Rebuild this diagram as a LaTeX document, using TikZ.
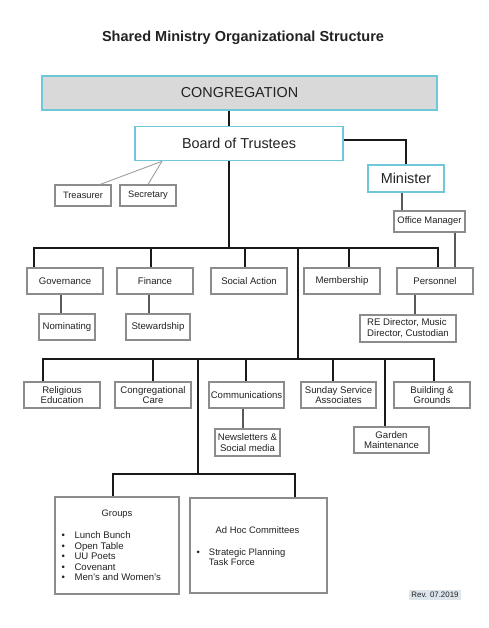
\documentclass[tikz,border=0pt]{standalone}
\usepackage{fontspec}
\setmainfont{Liberation Sans}
\definecolor{cyanb}{HTML}{6FC8DA}
\definecolor{grayb}{HTML}{8C8C8C}
\definecolor{congfill}{HTML}{D9D9D9}
\definecolor{revfill}{HTML}{DCE5EC}
\definecolor{txt}{HTML}{222222}
\tikzset{
  bx/.style={draw=grayb, line width=1.1pt, fill=white, inner sep=1pt, align=center,
    font=\fontsize{9.6}{10.8}\selectfont, text=txt},
  bigbx/.style={draw=cyanb, line width=1.6pt, inner sep=1pt,
    font=\fontsize{14.4}{16}\selectfont, text=txt},
  conn/.style={line width=1.8pt, black!90},
  thinln/.style={line width=0.9pt, gray!75},
  midln/.style={line width=1.3pt, black!65},
  listtxt/.style={inner sep=0pt, anchor=north west, font=\fontsize{9.6}{10.5}\selectfont, text=txt, align=left},
}
\begin{document}
\begin{tikzpicture}[x=1pt,y=-1pt]
\useasboundingbox[fill=white] (0,0) rectangle (488,628);

% title
\node[font=\bfseries\fontsize{14.5}{16}\selectfont, text=txt] (title) at (243,38) {Shared Ministry Organizational Structure};

% top level
\node[bigbx, fill=congfill, minimum width=395pt, minimum height=34pt] (cong) at (239.5,93) {CONGREGATION};
\node[bigbx, fill=white, minimum width=208pt, minimum height=34pt] (board) at (239,143.5) {Board of Trustees};
\node[bigbx, fill=white, minimum width=76pt, minimum height=27pt] (min) at (406,178.5) {Minister};

\node[bx, minimum width=56pt, minimum height=21pt, font=\fontsize{9.3}{10.8}\selectfont] (treas) at (83,195.5) {Treasurer};
\node[bx, minimum width=56pt, minimum height=21pt, font=\fontsize{9.3}{10.8}\selectfont] (secr) at (148,195.5) {Secretary};
\node[bx, minimum width=71pt, minimum height=21pt, font=\fontsize{9.4}{10.8}\selectfont] (office) at (429.5,221.5) {Office Manager};

% row 1
\node[bx, minimum width=76pt, minimum height=26pt] (gov) at (65,281) {Governance};
\node[bx, minimum width=76pt, minimum height=26pt] (fin) at (155,281) {Finance};
\node[bx, minimum width=76pt, minimum height=26pt] (soc) at (249,281) {Social Action};
\node[bx, minimum width=76pt, minimum height=26pt] (mem) at (342,281) {Membership};
\node[bx, minimum width=76pt, minimum height=26pt] (pers) at (435,281) {Personnel};

\node[bx, minimum width=56pt, minimum height=26pt] (nom) at (67,327) {Nominating};
\node[bx, minimum width=64pt, minimum height=26pt] (stew) at (158,327) {Stewardship};
\node[bx, minimum width=96pt, minimum height=27pt, align=left] (redir) at (408,328.5) {RE Director, Music\\Director, Custodian};

% row 2
\node[bx, minimum width=76pt, minimum height=26pt] (rel) at (62,395) {Religious\\Education};
\node[bx, minimum width=76pt, minimum height=26pt] (care) at (153,395) {Congregational\\Care};
\node[bx, minimum width=75pt, minimum height=26pt] (comm) at (246.5,395) {Communications};
\node[bx, minimum width=75pt, minimum height=26pt] (sun) at (338.5,395) {Sunday Service\\Associates};
\node[bx, minimum width=76pt, minimum height=26pt] (bld) at (432,395) {Building \&\\Grounds};

\node[bx, minimum width=65pt, minimum height=27pt] (news) at (247.5,442.5) {Newsletters \&\\Social media};
\node[bx, minimum width=75pt, minimum height=26pt] (garden) at (391.5,440) {Garden\\Maintenance};

% bottom boxes
\node[bx, minimum width=124pt, minimum height=97pt] (groups) at (117,545.5) {};
\node[bx, minimum width=137pt, minimum height=95pt] (adhoc) at (258.5,545.5) {};

\node[inner sep=0pt, font=\fontsize{9.4}{10.8}\selectfont, text=txt] (groupst) at (117,514) {Groups};
\node[listtxt] (groupsl) at (61.5,531) {\begin{tabular}{@{}l@{\hspace{9.5pt}}l@{}}
\textbullet & Lunch Bunch\\
\textbullet & Open Table\\
\textbullet & UU Poets\\
\textbullet & Covenant\\
\textbullet & Men’s and Women’s
\end{tabular}};

\node[inner sep=0pt, font=\fontsize{9.4}{10.8}\selectfont, text=txt] (adhoct) at (257.5,530) {Ad Hoc Committees};
\node[listtxt, font=\fontsize{9.4}{10.2}\selectfont] (adhocl) at (196.5,548) {\begin{tabular}{@{}l@{\hspace{9pt}}l@{}}
\textbullet & Strategic Planning\\
 & Task Force
\end{tabular}};

\node[fill=revfill, inner sep=1pt, minimum width=52pt, minimum height=10pt, font=\fontsize{7.9}{9}\selectfont, text=txt] (rev) at (435,594.5) {Rev. 07.2019};

% ---- connectors ----
\coordinate (c2) at ([xshift=-10pt]board.south);
\coordinate (c1) at (c2 |- cong.south);
\draw[conn] (c1) -- (c1 |- board.north);

\draw[conn] ([yshift=3.5pt]board.east) -| (min.north);

\coordinate (bt) at ([xshift=-77pt]board.south);
\draw[thinln] (bt) -- ([xshift=17pt]treas.north);
\draw[thinln] (bt) -- (secr.north);

\coordinate (m1) at ([xshift=-4pt]min.south);
\draw[midln] (m1) -- (m1 |- office.north);
\coordinate (o1) at ([xshift=25.5pt]office.south);
\draw[midln] (o1) -- (o1 |- pers.north);

% bus 1
\coordinate (bus1m) at (229,248);
\coordinate (b1L) at (34,248);
\coordinate (b1R) at (438,248);
\coordinate (b1fin) at (151,248);
\coordinate (b1soc) at (245,248);
\coordinate (b1mem) at (349,248);
\coordinate (b1tr) at (298,248);
\draw[conn] (c2) -- (bus1m);
\draw[conn] (b1L |- gov.north) -- (b1L) -- (b1R) -- (b1R |- pers.north);
\draw[conn] (b1fin) -- (b1fin |- fin.north);
\draw[conn] (b1soc) -- (b1soc |- soc.north);
\draw[conn] (b1mem) -- (b1mem |- mem.north);

\coordinate (g1) at ([xshift=-4pt]gov.south);
\draw[midln] (g1) -- (g1 |- nom.north);
\coordinate (f1) at ([xshift=-6pt]fin.south);
\draw[midln] (f1) -- (f1 |- stew.north);
\coordinate (p1) at ([xshift=-20pt]pers.south);
\draw[midln] (p1) -- (p1 |- redir.north);

% bus 2
\coordinate (b2tr) at (298,359);
\coordinate (b2L) at (43,359);
\coordinate (b2R) at (434,359);
\coordinate (b2care) at (153,359);
\coordinate (b2comm) at (246,359);
\coordinate (b2sun) at (333,359);
\coordinate (b2gar) at (385,359);
\coordinate (b2low) at (198,359);
\draw[conn] (b1tr) -- (b2tr);
\draw[conn] (b2L |- rel.north) -- (b2L) -- (b2R) -- (b2R |- bld.north);
\draw[conn] (b2care) -- (b2care |- care.north);
\draw[conn] (b2comm) -- (b2comm |- comm.north);
\draw[conn] (b2sun) -- (b2sun |- sun.north);
\draw[conn] (b2gar) -- (b2gar |- garden.north);

\coordinate (cm1) at ([xshift=-3.5pt]comm.south);
\draw[midln] (cm1) -- (cm1 |- news.north);

% bus 3
\coordinate (b3m) at (198,474);
\coordinate (b3L) at (113,474);
\coordinate (b3R) at (295,474);
\draw[conn] (b2low) -- (b3m);
\draw[conn] (b3L |- groups.north) -- (b3L) -- (b3R) -- (b3R |- adhoc.north);
\end{tikzpicture}
\end{document}
